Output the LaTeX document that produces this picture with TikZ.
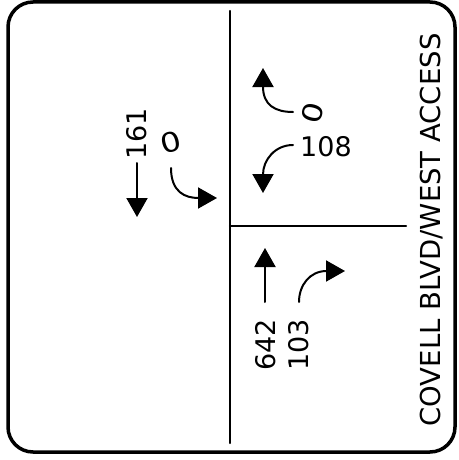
\documentclass[tikz,border=0pt]{standalone}
\usepackage{fontspec}
\usetikzlibrary{arrows.meta}
\newfontfamily\hand{DejaVu Sans}
\tikzset{
  count/.style={font=\hand\fontsize{27}{27}\selectfont, inner sep=0pt},
  flow/.style={line width=2pt, ->},
}

\begin{document}
\begin{tikzpicture}[x=1pt, y=-1pt, >={Triangle[length=19pt,width=21pt]}, line cap=round]
      \useasboundingbox (0,0) rectangle (458,460);
      % frame and street lines
      \draw [line width=3.5pt, rounded corners=25pt] (8,2) rectangle (455,452);
      \coordinate (ntop) at (230,11);
      \coordinate (nbot) at (230,443);
      \coordinate (mid) at (230,226);
      \coordinate (eend) at (406,226);
      \draw [line width=2.2pt] (ntop) -- (nbot);
      \draw [line width=2.2pt] (mid) -- (eend);

      % left approach
      \node [count, name=sthru, rotate=90] at (137,134) {161};
      \node [count, name=sleft, rotate=15, xscale=1.2] at (171,142) {0};
      \coordinate (s1) at (137,163);
      \coordinate (s2) at (137,217);
      \coordinate (s3) at (171,168);
      \coordinate (s4) at (217,198);
      \draw [flow] (s1) -- (s2);
      \draw [flow] (s3) .. controls (171,192) and (185,198) .. (s4);

      % upper right approach
      \node [count, name=wleft, rotate=75, xscale=1.2] at (313,113) {0};
      \node [count, name=wright] at (326,147) {108};
      \coordinate (w1) at (293,112);
      \coordinate (w2) at (263,68);
      \coordinate (w3) at (293,145);
      \coordinate (w4) at (263,193);
      \draw [flow] (w1) .. controls (275,112) and (263,105) .. (w2);
      \draw [flow] (w3) .. controls (275,145) and (263,160) .. (w4);

      % lower right approach
      \node [count, name=nthru, rotate=90, anchor=east] at (266,319) {642};
      \node [count, name=nright, rotate=90, anchor=east] at (299,319) {103};
      \coordinate (n1) at (265,302);
      \coordinate (n2) at (265,248);
      \coordinate (n3) at (299,302);
      \coordinate (n4) at (345,271);
      \draw [flow] (n1) -- (n2);
      \draw [flow] (n3) .. controls (299,285) and (310,271) .. (n4);

      \node [count, name=street, rotate=90, font=\hand\fontsize{27.5}{27.5}\selectfont] at (432,230) {COVELL BLVD/WEST ACCESS};
\end{tikzpicture}
\end{document}
